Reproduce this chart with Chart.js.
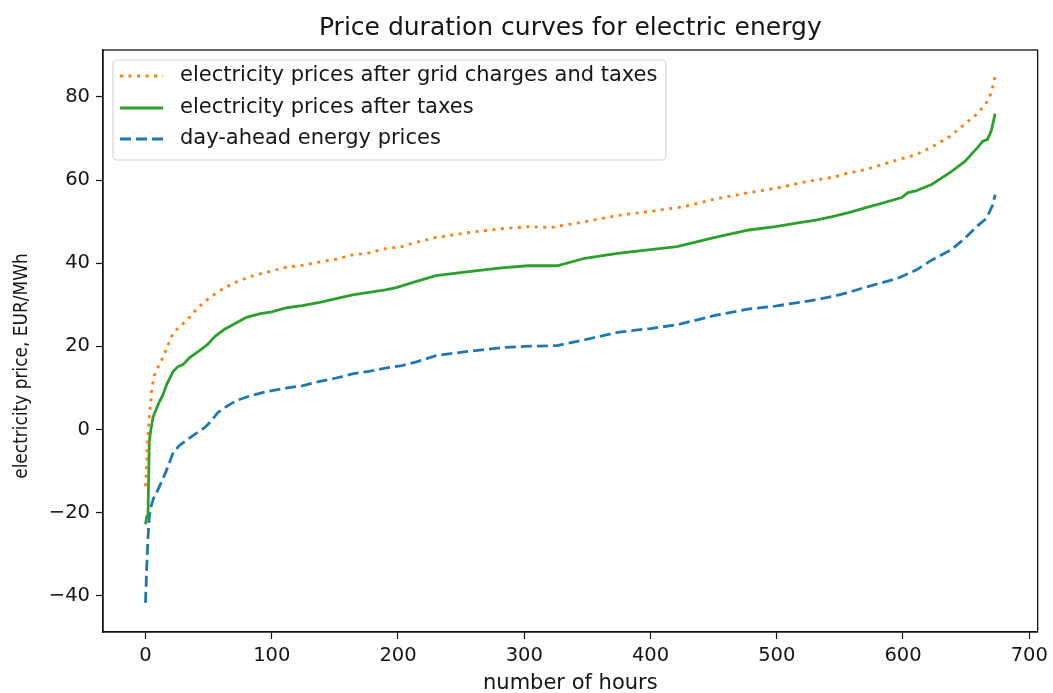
<!DOCTYPE html>
<html>
<head>
<meta charset="utf-8">
<script src="https://cdn.jsdelivr.net/npm/chart.js@4.4.1/dist/chart.umd.min.js"></script>
<style>
  html, body { margin: 0; padding: 0; background: #fff; }
  #wrap { width: 1053px; height: 693px; position: relative; }
</style>
</head>
<body>
<div id="wrap"><canvas id="chart" width="1053" height="693"></canvas></div>
<script>
// Sorted hourly prices (EUR/MWh) by number of hours
const gridHours = [0, 1, 2, 3, 4, 5, 7, 10, 14, 18, 22, 28, 35, 42, 52, 62, 72, 85, 98, 111, 124, 138, 151, 164, 177, 190, 203, 214, 230, 256, 282, 303, 321, 348, 374, 400, 426, 452, 478, 499, 518, 531, 544, 557, 570, 583, 596, 610, 623, 636, 649, 659, 666, 670, 673];
const gridPrices = [-13.6, -8, -1, 3, 6, 10, 13, 15, 17.5, 20.5, 23.3, 25, 27, 29.5, 32, 34, 35.5, 37, 38, 39, 39.5, 40.3, 41, 42, 42.5, 43.5, 44, 45, 46.2, 47.4, 48.3, 48.8, 48.6, 50, 51.5, 52.5, 53.6, 55.5, 57, 58, 59.3, 60, 60.7, 61.7, 62.5, 63.7, 64.9, 66.1, 68, 70.3, 73.5, 76, 78.6, 81, 85];

const taxHours = [0, 1, 2, 3, 4, 6, 10, 14, 17, 22, 26, 30, 35, 42, 49, 55, 62, 71, 80, 90, 100, 112, 124, 138, 151, 164, 177, 190, 198, 214, 230, 256, 282, 303, 326, 348, 374, 400, 421, 452, 478, 499, 518, 531, 544, 557, 570, 583, 599, 604, 610, 623, 638, 649, 659, 663, 667, 670, 673];
const taxPrices = [-22.8, -21, -20.5, -3, -0.5, 3, 6, 8.5, 11, 14, 15.2, 15.7, 17.3, 18.8, 20.4, 22.4, 24, 25.5, 27, 27.8, 28.3, 29.3, 29.8, 30.6, 31.5, 32.4, 33, 33.6, 34.1, 35.6, 37, 38, 38.9, 39.4, 39.4, 41.2, 42.4, 43.3, 44, 46.3, 48, 48.8, 49.8, 50.4, 51.2, 52.2, 53.3, 54.4, 55.8, 57, 57.4, 59, 62, 64.5, 67.8, 69.3, 69.8, 72, 76];

const dayAheadHours = [0, 1, 2, 3, 4, 6, 10, 16, 22, 27, 35, 47, 52, 57, 64, 72, 84, 97, 112, 124, 138, 151, 164, 177, 190, 203, 214, 230, 256, 282, 300, 326, 348, 374, 400, 421, 452, 478, 499, 518, 531, 544, 557, 570, 583, 596, 610, 623, 638, 649, 659, 665, 668, 671, 673];
const dayAheadPrices = [-41.7, -33, -26, -21, -19, -16.8, -14.4, -10.3, -5.5, -3.8, -2, 0.5, 2, 4, 5.5, 7, 8.2, 9.2, 10, 10.5, 11.6, 12.4, 13.4, 14, 14.8, 15.4, 16.2, 17.8, 18.8, 19.7, 20, 20.2, 21.6, 23.4, 24.3, 25.2, 27.5, 29, 29.7, 30.6, 31.2, 32, 33, 34.2, 35.3, 36.4, 38.3, 40.8, 43.2, 46, 49, 50.5, 52, 54, 56.5];

const seriesLabels = [
  'electricity prices after grid charges and taxes',
  'electricity prices after taxes',
  'day-ahead energy prices'
];
const xTickValues = [0, 100, 200, 300, 400, 500, 600, 700];
const yTickValues = [-40, -20, 0, 20, 40, 60, 80];
const yAxisTitle = 'electricity price, EUR/MWh';

const FONT = "'DejaVu Sans', sans-serif";
const TEXT = '#151515';

function points(xs, ys) {
  return xs.map((x, i) => ({ x: x, y: ys[i] }));
}

// Legend drawn inside the upper-left corner of the axes
const innerLegend = {
  id: 'innerLegend',
  afterDraw(chart) {
    const ctx = chart.ctx;
    const left = 113, top = 60, width = 553, height = 100;
    ctx.save();
    ctx.beginPath();
    ctx.roundRect(left, top, width, height, 4);
    ctx.fillStyle = 'rgba(255,255,255,0.85)';
    ctx.fill();
    ctx.lineWidth = 1.2;
    ctx.strokeStyle = '#d4d4d4';
    ctx.stroke();
    ctx.font = '21px ' + FONT;
    ctx.textBaseline = 'middle';
    const rows = [76, 108, 139];
    chart.data.datasets.forEach((ds, i) => {
      const y = rows[i];
      ctx.beginPath();
      ctx.setLineDash(ds.borderDash || []);
      ctx.lineCap = 'butt';
      ctx.lineWidth = ds.borderWidth;
      ctx.strokeStyle = ds.borderColor;
      ctx.moveTo(120, y);
      ctx.lineTo(163, y);
      ctx.stroke();
      ctx.setLineDash([]);
      ctx.fillStyle = TEXT;
      ctx.fillText(ds.label, 180, y);
    });
    ctx.restore();
  }
};

// Full box around the axes
const axesFrame = {
  id: 'axesFrame',
  afterDatasetsDraw(chart) {
    const a = chart.chartArea;
    const ctx = chart.ctx;
    ctx.save();
    ctx.strokeStyle = '#111';
    ctx.lineWidth = 1.3;
    ctx.strokeRect(a.left, a.top, a.right - a.left, a.bottom - a.top);
    ctx.restore();
  }
};

// Rotated title beside the price axis
const priceAxisTitle = {
  id: 'priceAxisTitle',
  afterDraw(chart) {
    const ctx = chart.ctx;
    ctx.save();
    ctx.translate(22, 366);
    ctx.rotate(-Math.PI / 2);
    ctx.scale(1, 1.15);
    ctx.font = '17px ' + FONT;
    ctx.fillStyle = TEXT;
    ctx.textAlign = 'center';
    ctx.textBaseline = 'middle';
    ctx.fillText(yAxisTitle, 0, 0);
    ctx.restore();
  }
};

new Chart(document.getElementById('chart'), {
  type: 'line',
  data: {
    datasets: [
      {
        label: seriesLabels[0],
        data: points(gridHours, gridPrices),
        borderColor: '#ff7f0e',
        borderWidth: 2.8,
        borderDash: [3, 5.5],
        borderCapStyle: 'butt'
      },
      {
        label: seriesLabels[1],
        data: points(taxHours, taxPrices),
        borderColor: '#2ca02c',
        borderWidth: 2.8
      },
      {
        label: seriesLabels[2],
        data: points(dayAheadHours, dayAheadPrices),
        borderColor: '#1f77b4',
        borderWidth: 2.8,
        borderDash: [11, 5],
        borderCapStyle: 'butt'
      }
    ]
  },
  options: {
    responsive: false,
    animation: false,
    parsing: false,
    elements: { point: { radius: 0 }, line: { tension: 0, fill: false } },
    layout: { padding: { left: 0, right: 11, top: 0, bottom: 0 } },
    plugins: {
      legend: { display: false },
      tooltip: { enabled: false },
      title: {
        display: true,
        text: 'Price duration curves for electric energy',
        fullSize: false,
        color: TEXT,
        font: { family: FONT, size: 25, weight: 'normal', lineHeight: 1.2 },
        padding: { top: 13, bottom: 7 }
      }
    },
    scales: {
      x: {
        type: 'linear',
        min: -33.65,
        max: 706.65,
        afterFit(s) { s.height = 61; },
        afterBuildTicks(s) { s.ticks = xTickValues.map(v => ({ value: v })); },
        grid: { drawOnChartArea: false, drawTicks: true, tickLength: 7, color: '#111', tickWidth: 1.2 },
        border: { display: true, color: '#111', width: 1.3 },
        ticks: {
          color: TEXT,
          padding: 5,
          maxRotation: 0,
          font: { family: FONT, size: 19.5 },
          callback: v => String(v)
        },
        title: {
          display: true,
          text: 'number of hours',
          color: TEXT,
          font: { family: FONT, size: 21, lineHeight: 1 },
          padding: { top: 0, bottom: -1.5 }
        }
      },
      y: {
        type: 'linear',
        min: -48.7,
        max: 91.3,
        afterFit(s) { s.width = 103; },
        afterBuildTicks(s) { s.ticks = yTickValues.map(v => ({ value: v })); },
        grid: { drawOnChartArea: false, drawTicks: true, tickLength: 7, color: '#111', tickWidth: 1.2 },
        border: { display: true, color: '#111', width: 1.3 },
        ticks: {
          color: TEXT,
          padding: 6,
          font: { family: FONT, size: 19.5 },
          callback: v => (v < 0 ? '\u2212' + Math.abs(v) : String(v))
        },
        title: { display: false }
      }
    }
  },
  plugins: [axesFrame, innerLegend, priceAxisTitle]
});
</script>
</body>
</html>
